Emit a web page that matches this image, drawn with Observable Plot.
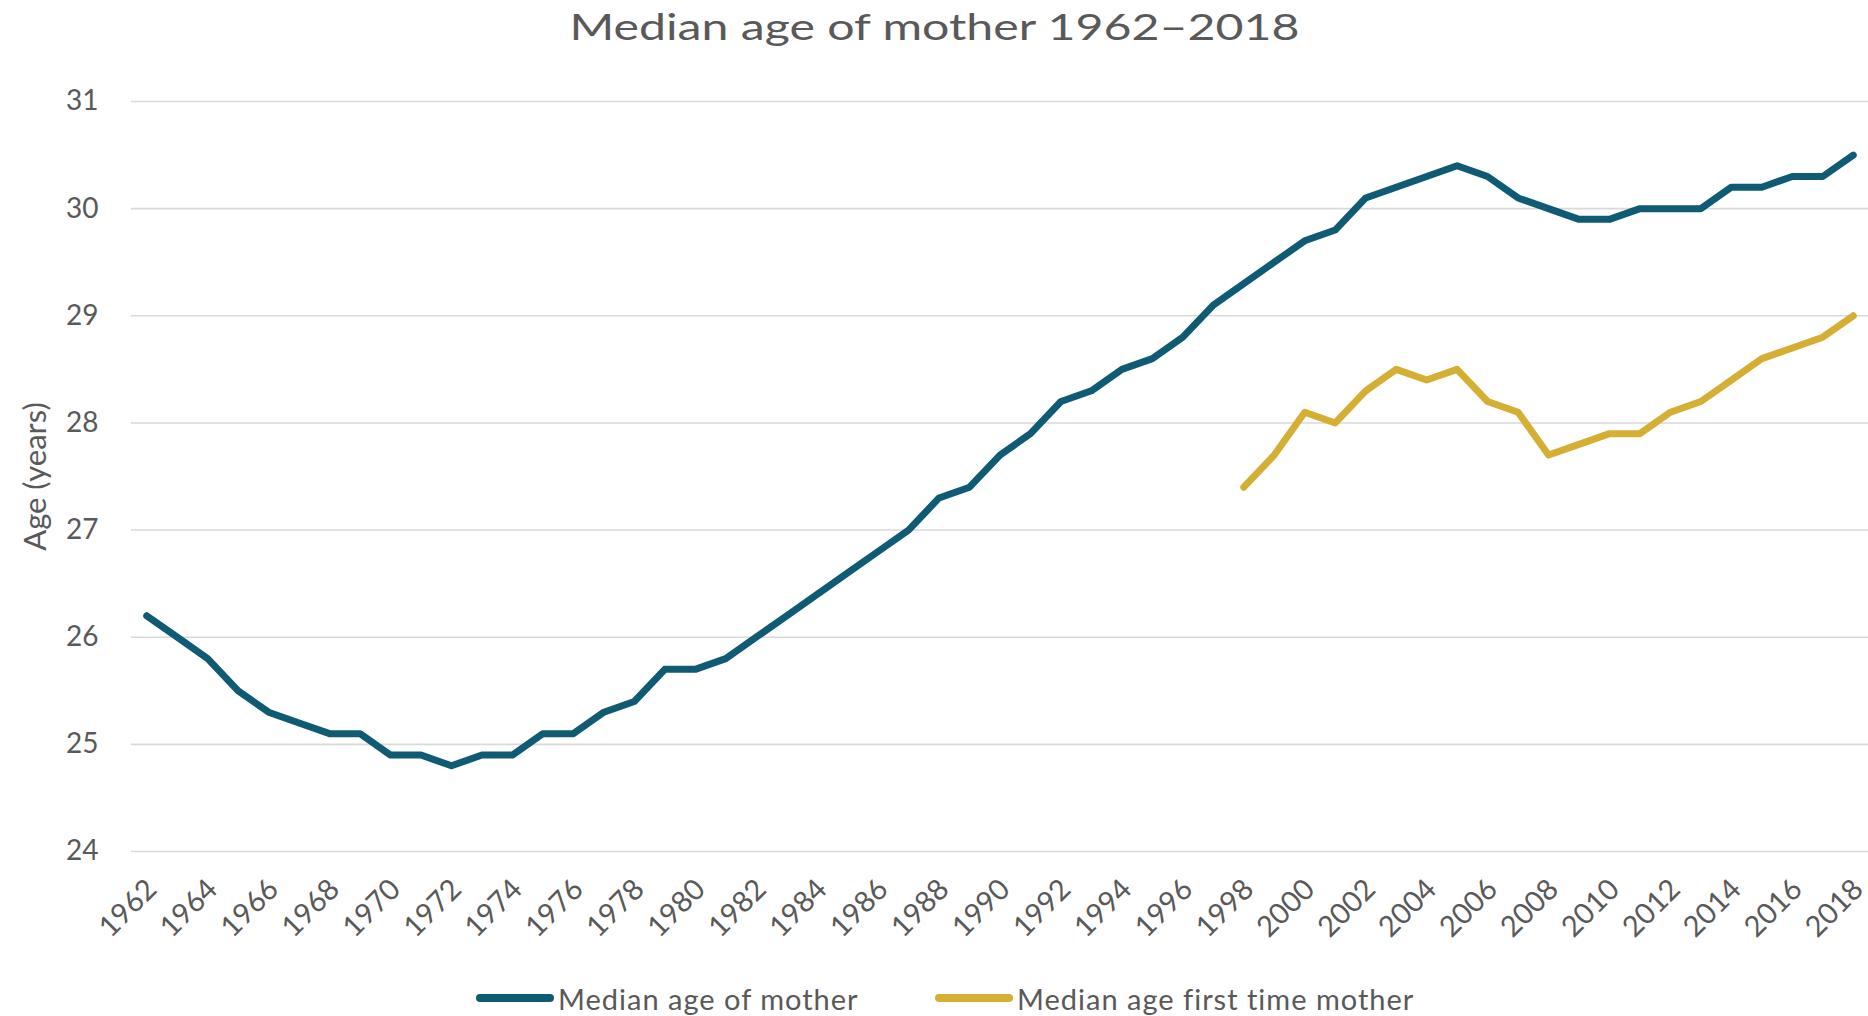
<!DOCTYPE html>
<html>
<head>
<meta charset="utf-8">
<script src="https://cdn.jsdelivr.net/npm/d3@7"></script>
<script src="https://cdn.jsdelivr.net/npm/@observablehq/plot@0.6"></script>
<style>
  html, body { margin: 0; padding: 0; background: #ffffff; overflow: hidden; }
  body { width: 1868px; height: 1016px; font-family: Lato, "Open Sans", sans-serif; color: #595959; position: relative; }
  #title { height: 52px; line-height: 52px; text-align: center; font-size: 36px; color: #595959; }
  #title span { display: inline-block; transform: scaleX(1.34); transform-origin: center; }
  #chart { height: 920px; }
  #legend { position: relative; height: 52px; }
  .item { position: absolute; top: 0; height: 52px; display: flex; align-items: center; font-size: 29px; letter-spacing: 1px; color: #595959; }
  .sw { display: inline-block; width: 78px; height: 8px; border-radius: 4px; margin-right: 4px; }
</style>
</head>
<body>
<div id="title"><span id="titleText"></span></div>
<div id="chart"></div>
<div id="legend"></div>
<script>
// ---- data ----
const years = [
  1962,1963,1964,1965,1966,1967,1968,1969,1970,1971,1972,1973,1974,1975,1976,1977,1978,1979,
  1980,1981,1982,1983,1984,1985,1986,1987,1988,1989,1990,1991,1992,1993,1994,1995,1996,1997,
  1998,1999,2000,2001,2002,2003,2004,2005,2006,2007,2008,2009,2010,2011,2012,2013,2014,2015,
  2016,2017,2018
];
const medianAgeMother = [
  26.2,26.0,25.8,25.5,25.3,25.2,25.1,25.1,24.9,24.9,24.8,24.9,24.9,25.1,25.1,25.3,25.4,25.7,
  25.7,25.8,26.0,26.2,26.4,26.6,26.8,27.0,27.3,27.4,27.7,27.9,28.2,28.3,28.5,28.6,28.8,29.1,
  29.3,29.5,29.7,29.8,30.1,30.2,30.3,30.4,30.3,30.1,30.0,29.9,29.9,30.0,30.0,30.0,30.2,30.2,
  30.3,30.3,30.5
];
const firstTimeYears = [
  1998,1999,2000,2001,2002,2003,2004,2005,2006,2007,2008,2009,2010,2011,2012,2013,2014,2015,
  2016,2017,2018
];
const medianAgeFirstTime = [
  27.4,27.7,28.1,28.0,28.3,28.5,28.4,28.5,28.2,28.1,27.7,27.8,27.9,27.9,28.1,28.2,28.4,28.6,
  28.7,28.8,29.0
];
const seriesNames = ["Median age of mother", "Median age first time mother"];
const seriesColors = ["#0e5b73", "#d4af34"];
const xTickLabels = [1962,1964,1966,1968,1970,1972,1974,1976,1978,1980,1982,1984,1986,1988,1990,
  1992,1994,1996,1998,2000,2002,2004,2006,2008,2010,2012,2014,2016,2018];
const yTickValues = [24,25,26,27,28,29,30,31];
const titleText = "Median age of mother 1962–2018";
const yAxisTitle = "Age (years)";

document.getElementById("titleText").textContent = titleText;

// ---- build table ----
const rows = [
  ...years.map((yr, i) => ({year: yr, age: medianAgeMother[i], series: seriesNames[0]})),
  ...firstTimeYears.map((yr, i) => ({year: yr, age: medianAgeFirstTime[i], series: seriesNames[1]}))
];

const fmt = d3.format("d");

const chart = Plot.plot({
  width: 1868,
  height: 920,
  marginLeft: 131,
  marginRight: 0,
  marginTop: 49,
  marginBottom: 121,
  style: {fontFamily: "Lato, 'Open Sans', sans-serif", fontSize: "28px", color: "#595959", background: "#ffffff"},
  x: {type: "point", domain: years, padding: 0.5, round: false},
  y: {domain: [24, 31]},
  color: {domain: seriesNames, range: seriesColors},
  marks: [
    Plot.ruleY(yTickValues, {stroke: "#d9d9d9", strokeWidth: 1.6}),
    Plot.axisY(yTickValues, {tickSize: 0, tickPadding: 33, tickFormat: fmt, label: null, fill: "#595959", fontSize: 28}),
    Plot.axisX(xTickLabels, {tickSize: 0, tickPadding: 33, dx: 5, tickRotate: -45, tickFormat: fmt, label: null, fill: "#595959", fontSize: 29}),
    Plot.text([yAxisTitle], {frameAnchor: "left", textAnchor: "middle", rotate: -90, dx: -95, fill: "#595959", fontSize: 31}),
    Plot.line(rows, {x: "year", y: "age", z: "series", stroke: "series", strokeWidth: 7,
      strokeLinejoin: "round", strokeLinecap: "round"})
  ]
});
document.getElementById("chart").appendChild(chart);

// ---- legend ----
const legendLefts = [476, 935];
const legend = document.getElementById("legend");
seriesNames.forEach((name, i) => {
  const item = document.createElement("div");
  item.className = "item";
  item.style.left = legendLefts[i] + "px";
  const sw = document.createElement("span");
  sw.className = "sw";
  sw.style.background = seriesColors[i];
  const label = document.createElement("span");
  label.textContent = name;
  item.appendChild(sw);
  item.appendChild(label);
  legend.appendChild(item);
});
</script>
</body>
</html>
